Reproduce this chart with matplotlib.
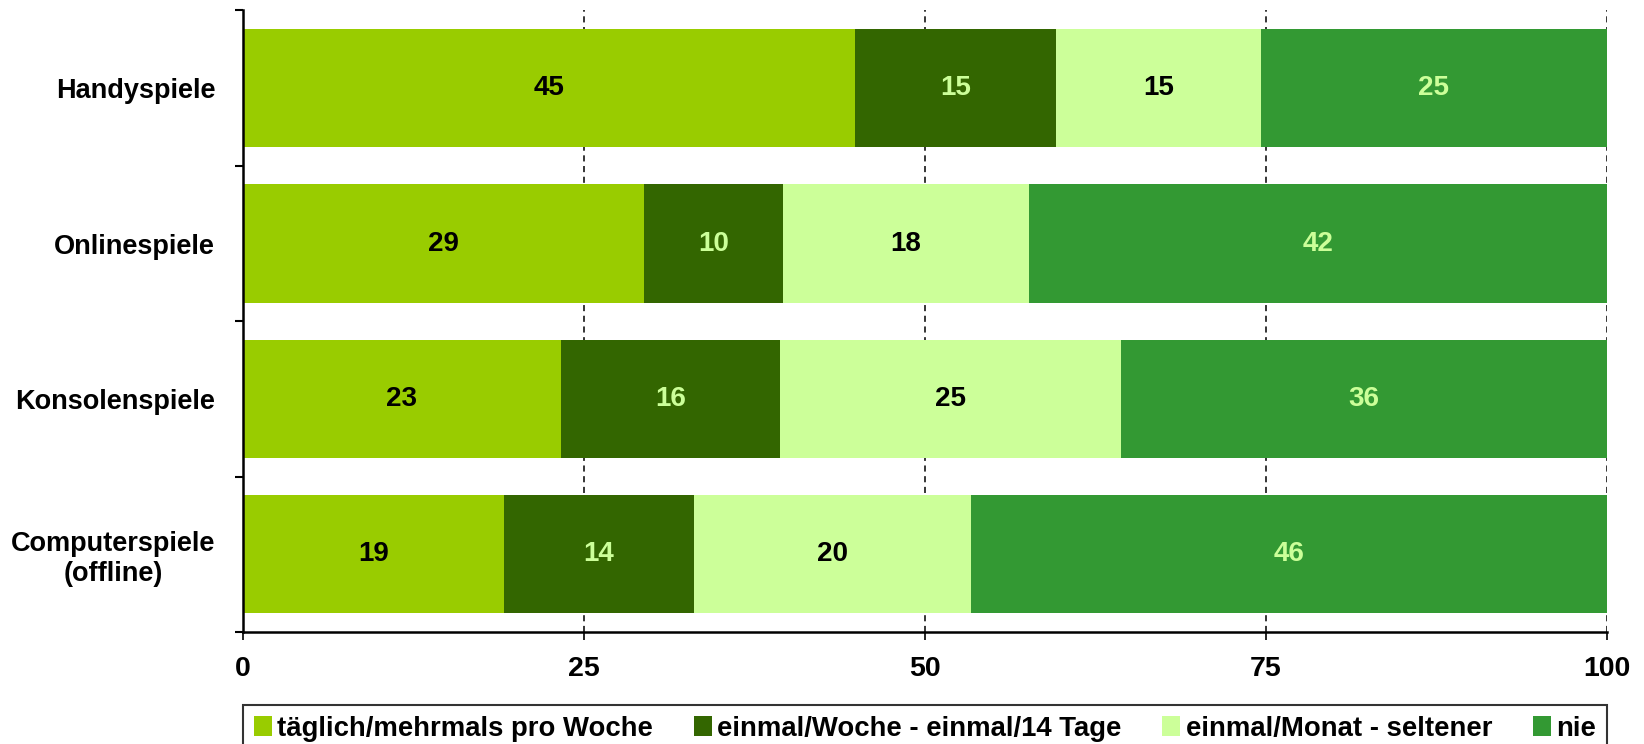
import numpy as np
import matplotlib
matplotlib.use("Agg")
import matplotlib.pyplot as plt

plt.rcParams['font.family'] = ['Liberation Sans', 'DejaVu Sans']
plt.rcParams['font.weight'] = 'bold'

categories = ["Handyspiele", "Onlinespiele", "Konsolenspiele", "Computerspiele\n(offline)"]
series = ["täglich/mehrmals pro Woche", "einmal/Woche - einmal/14 Tage",
          "einmal/Monat - seltener", "nie"]

# segment widths (percent)
taeglich = [44.9, 29.4, 23.3, 19.1]
woche = [14.7, 10.2, 16.1, 14.0]
monat = [15.0, 18.0, 25.0, 20.3]
nie = [25.4, 42.4, 35.6, 46.6]

# numbers printed in the bars
lab_taeglich = [45, 29, 23, 19]
lab_woche = [15, 10, 16, 14]
lab_monat = [15, 18, 25, 20]
lab_nie = [25, 42, 36, 46]

xticks = [0, 25, 50, 75, 100]

colors = ["#99CC00", "#336600", "#CCFF99", "#339933"]
text_colors = ["black", "#CCFF99", "black", "#CCFF99"]

fig = plt.figure(figsize=(16.44, 7.44), dpi=100)
ax = fig.add_axes([0.1478, 0.1505, 0.9775 - 0.1478, 0.986 - 0.1505])

y = np.arange(len(categories))
left = np.zeros(len(categories))
data = [taeglich, woche, monat, nie]
labels = [lab_taeglich, lab_woche, lab_monat, lab_nie]
for vals, labs, c, tc, name in zip(data, labels, colors, text_colors, series):
    bars = ax.barh(y, vals, left=left, height=0.76, color=c, label=name)
    ax.bar_label(bars, labels=[str(v) for v in labs], label_type='center',
                 color=tc, fontsize=20, fontweight='bold')
    left += np.array(vals)

ax.set_ylim(3.5, -0.5)
ax.set_xlim(0, 100)
ax.set_yticks(y)
ax.set_yticklabels(categories, multialignment='center')
ax.set_yticks(np.arange(-0.5, 4, 1), minor=True)
ax.tick_params(axis='y', which='major', length=0, pad=20, labelsize=19.5)
ax.tick_params(axis='y', which='minor', length=6, width=1.5, direction='out')
ax.set_xticks(xticks)
ax.tick_params(axis='x', length=6, width=1.2, direction='out', pad=11, labelsize=20.5)

for s in ['top', 'right']:
    ax.spines[s].set_visible(False)
for s in ['left', 'bottom']:
    ax.spines[s].set_linewidth(1.8)

ax.set_axisbelow(True)
ax.xaxis.grid(True, color='black', linestyle=(0, (4, 3)), linewidth=1.1)

leg = fig.legend(loc='upper left', bbox_to_anchor=(0.1478, 1 - 712 / 744, 0.9775 - 0.1478, 0.01),
                 mode='expand', ncol=4, fontsize=19.8, frameon=True, fancybox=False,
                 edgecolor='black', borderpad=0.4, handlelength=0.65, handleheight=0.75,
                 handletextpad=0.2, borderaxespad=0, columnspacing=1.0)
leg.get_frame().set_linewidth(1.5)

fig.savefig("out.png", dpi=100)
